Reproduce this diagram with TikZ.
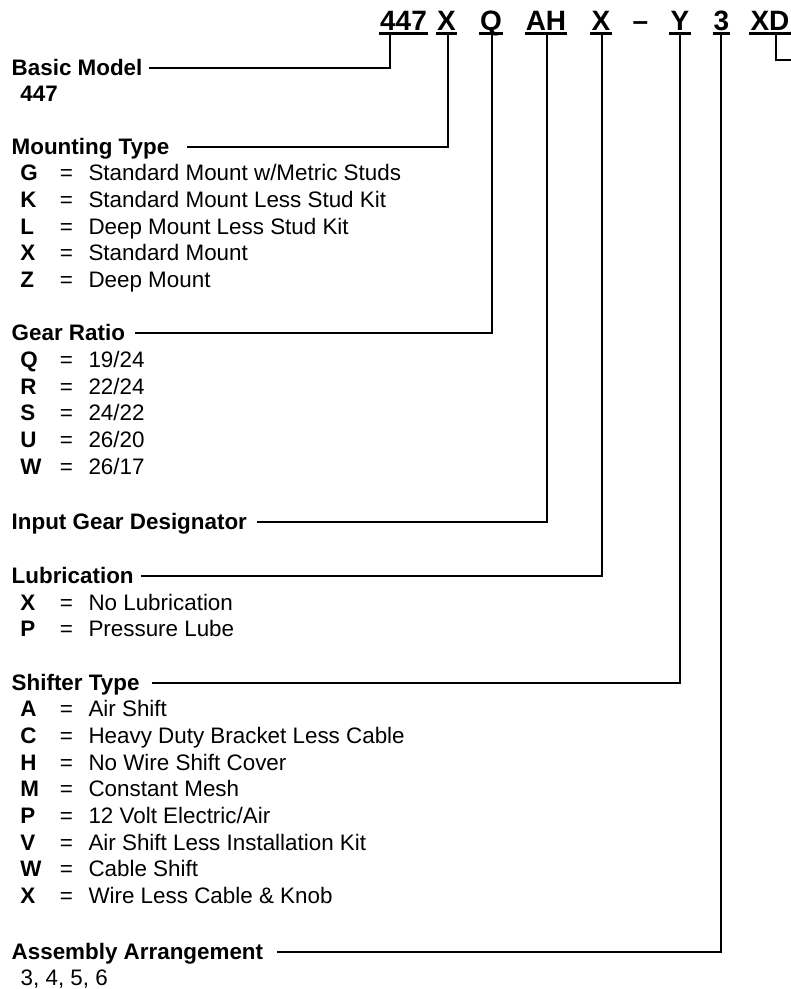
\documentclass[tikz,border=0pt]{standalone}
\usepackage{fontspec}
\setmainfont{Liberation Sans}
\newcommand\kvrow[4]{%
  \node[code] (#1k) at (20.2,-#2) {#3};
  \node[eqs]  (#1e) at (66.4,-#2) {=};
  \node[desc] (#1d) at (88.3,-#2) {#4};
}
\begin{document}
\begin{tikzpicture}[x=1pt,y=1pt,
  hdr/.style={font=\bfseries\fontsize{28}{32}\selectfont, inner sep=0pt, anchor=base},
  lbl/.style={font=\bfseries\fontsize{22.4}{26}\selectfont, inner sep=0pt, anchor=base west, text height=15pt, text depth=0pt},
  code/.style={font=\bfseries\fontsize{22.4}{26}\selectfont, inner sep=0pt, anchor=base west},
  eqs/.style={font=\fontsize{22.4}{26}\selectfont, inner sep=0pt, anchor=base},
  desc/.style={font=\fontsize{22.4}{26}\selectfont, inner sep=0pt, anchor=base west},
  lead/.style={line width=2pt},
  uline/.style={line width=2.4pt}]
\useasboundingbox (0,0) rectangle (791,-989);

% ---------- header code ----------
\node[hdr] (h447) at (403.5,-30.7) {447};
\node[hdr] (hX1)  at (446.5,-30.7) {X};
\node[hdr] (hQ)   at (491,-30.7) {Q};
\node[hdr] (hAH)  at (546,-30.7) {AH};
\node[hdr] (hX2)  at (601,-30.7) {X};
\node[hdr] (hdash) at (640.5,-30.7) {–};
\node[hdr] (hY)   at (680,-30.7) {Y};
\node[hdr] (h3)   at (721.5,-30.7) {3};
\node[hdr] (hXD)  at (770,-30.7) {XD};

\foreach \n in {h447,hX1,hQ,hAH,hX2,hY,h3,hXD}
  \draw[uline] ([xshift=-1pt,yshift=-2.6pt]\n.base west) -- ([xshift=1pt,yshift=-2.6pt]\n.base east);

% attachment points just below the underlines
\coordinate (u447) at (390,-33.3);
\coordinate (uX1)  at (447.7,-33.3);
\coordinate (uQ)   at (491.7,-33.3);
\coordinate (uAH)  at (547.3,-33.3);
\coordinate (uX2)  at (601.7,-33.3);
\coordinate (uY)   at (680,-33.3);
\coordinate (u3)   at (720.7,-33.3);
\coordinate (uXD)  at (775.7,-33.3);
\coordinate (xdend) at (791,-60);

% ---------- Basic Model ----------
\node[lbl] (bm) at (11.5,-75) {Basic Model};
\node[code] (bm447) at (20.2,-101.7) {447};

% ---------- Mounting Type ----------
\node[lbl] (mt) at (11.5,-154) {Mounting Type};
\kvrow{mtG}{180.7}{G}{Standard Mount w/Metric Studs}
\kvrow{mtK}{207.3}{K}{Standard Mount Less Stud Kit}
\kvrow{mtL}{234}{L}{Deep Mount Less Stud Kit}
\kvrow{mtX}{260.7}{X}{Standard Mount}
\kvrow{mtZ}{287.3}{Z}{Deep Mount}

% ---------- Gear Ratio ----------
\node[lbl] (gr) at (11.5,-340.7) {Gear Ratio};
\kvrow{grQ}{367.3}{Q}{19/24}
\kvrow{grR}{394}{R}{22/24}
\kvrow{grS}{420.7}{S}{24/22}
\kvrow{grU}{447.3}{U}{26/20}
\kvrow{grW}{474}{W}{26/17}

% ---------- Input Gear Designator ----------
\node[lbl] (ig) at (11.5,-529.3) {Input Gear Designator};

% ---------- Lubrication ----------
\node[lbl] (lu) at (11.5,-583.3) {Lubrication};
\kvrow{luX}{610}{X}{No Lubrication}
\kvrow{luP}{636.7}{P}{Pressure Lube}

% ---------- Shifter Type ----------
\node[lbl] (st) at (11.5,-690) {Shifter Type};
\kvrow{stA}{716.7}{A}{Air Shift}
\kvrow{stC}{743.3}{C}{Heavy Duty Bracket Less Cable}
\kvrow{stH}{770}{H}{No Wire Shift Cover}
\kvrow{stM}{796.7}{M}{Constant Mesh}
\kvrow{stP}{823.3}{P}{12 Volt Electric/Air}
\kvrow{stV}{850}{V}{Air Shift Less Installation Kit}
\kvrow{stW}{876.7}{W}{Cable Shift}
\kvrow{stX}{903.3}{X}{Wire Less Cable \& Knob}

% ---------- Assembly Arrangement ----------
\node[lbl] (aa) at (11.5,-959) {Assembly Arrangement};
\node[desc] (aav) at (20.5,-985) {3, 4, 5, 6};

% ---------- leaders ----------
\draw[lead] ([xshift=6pt]bm.east) -| (u447);
\draw[lead] ([xshift=18pt]mt.east) -| (uX1);
\draw[lead] ([xshift=10pt]gr.east) -| (uQ);
\draw[lead] ([xshift=10pt]ig.east) -| (uAH);
\draw[lead] ([xshift=7pt]lu.east) -| (uX2);
\draw[lead] ([xshift=12pt]st.east) -| (uY);
\draw[lead] ([xshift=14pt]aa.east) -| (u3);
\draw[lead] (uXD) |- (xdend);
\end{tikzpicture}
\end{document}
